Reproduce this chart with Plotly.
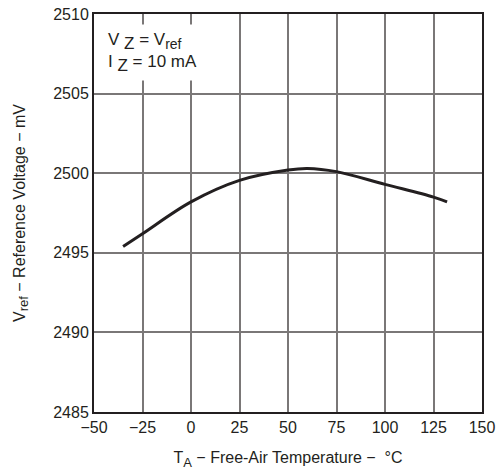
import plotly.graph_objects as go

temp_c = [-35, -25, 0, 25, 50, 60, 75, 100, 125, 132]
vref_mv = [2495.4, 2496.2, 2498.2, 2499.55, 2500.2, 2500.3, 2500.1, 2499.3, 2498.5, 2498.2]

x_ticks = [-50, -25, 0, 25, 50, 75, 100, 125, 150]
y_ticks = [2485, 2490, 2495, 2500, 2505, 2510]

font_family = "Liberation Sans, Arial, sans-serif"
ink = "#231f20"

fig = go.Figure()
fig.add_trace(go.Scatter(
    x=temp_c, y=vref_mv, mode="lines",
    line=dict(color=ink, width=3, shape="spline", smoothing=1.0),
    showlegend=False, hoverinfo="skip",
))

axis_common = dict(
    showgrid=True, gridcolor="#7a7777", gridwidth=1.6,
    showline=True, linecolor=ink, linewidth=2, mirror=True,
    ticks="", zeroline=False, ticklabeloverflow="allow",
    tickfont=dict(family=font_family, size=16, color=ink),
)

fig.update_xaxes(
    range=[-50, 150], tickvals=x_ticks,
    ticktext=["\u221250", "\u221225", "0", "25", "50", "75", "100", "125", "150"],
    title=dict(text="T<sub><span style='font-size:13px'>A</span></sub> \u2212 Free-Air Temperature \u2212  \u00b0C",
               font=dict(family=font_family, size=16, color=ink), standoff=17),
    **axis_common,
)
fig.update_yaxes(
    range=[2485, 2510], tickvals=y_ticks,
    title=dict(text="V<sub><span style='font-size:13px'>ref</span></sub> \u2212 Reference Voltage \u2212 mV",
               font=dict(family=font_family, size=16, color=ink), standoff=24),
    **axis_common,
)

fig.add_annotation(
    x=0.02, y=0.975, xref="paper", yref="paper", xanchor="left", yanchor="top",
    text=("V <sub><span style='font-size:17px'>Z</span></sub> = V<sub><span style='font-size:14px'>ref</span></sub><br>"
          "I <sub><span style='font-size:17px'>Z</span></sub> = 10 mA"),
    showarrow=False, align="left", bgcolor="white", borderpad=5,
    font=dict(family=font_family, size=17, color=ink),
)

fig.update_layout(
    width=501, height=471,
    margin=dict(l=94, r=6, t=11, b=59),
    paper_bgcolor="white", plot_bgcolor="white",
)

fig.write_html("out.html")
